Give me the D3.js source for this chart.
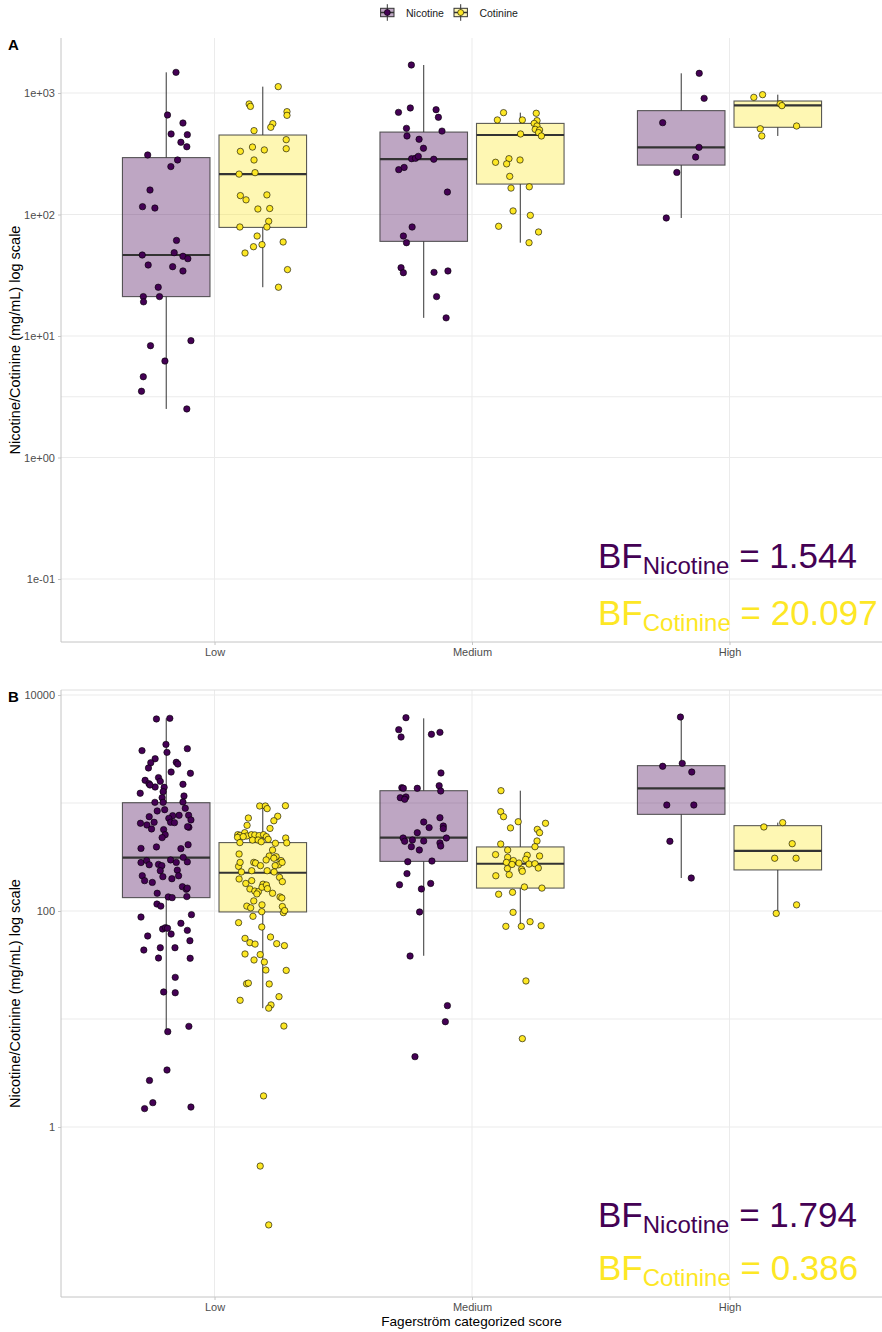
<!DOCTYPE html>
<html>
<head>
<meta charset="utf-8">
<script src="https://cdn.jsdelivr.net/npm/d3@7"></script>
<style>
  body { margin: 0; background: #fff; }
  svg { font-family: "Liberation Sans", Arial, sans-serif; }
</style>
</head>
<body>
<svg id="chart" width="882" height="1332"></svg>
<script>
const categories = ['Low', 'Medium', 'High']
const compounds = ['Nicotine', 'Cotinine']
const compoundColors = ['#440154', '#FDE725']

// ---- panel A ----
const limitsA = [0.0303, 2836]
const ticksA = [0.1, 1, 10, 100, 1000]
const tickLabelsA = ['1e-01', '1e+00', '1e+01', '1e+02', '1e+03']
const minorA = [3.162]
const bfA = ['1.544', '20.097']
// [lower whisker, q1, median, q3, upper whisker] per category
const boxA_nic = [[2.51, 21.1, 46.4, 294, 1480], [14.1, 60.1, 286, 477, 1700], [93.6, 255, 357, 716, 1452]]
const boxA_cot = [[25.2, 78.3, 215, 451, 1128], [58.6, 178, 451, 562, 689], [443, 522, 790, 859, 969]]
// points: [jitter (category units), value]
const ptsA_nic_low = [[0.038,1479],[0.005,659],[0.065,566],[0.019,460],[0.082,454],[0.057,393],[0.080,361],[-0.072,309],[0.044,281],[0.018,248],[-0.063,159],[-0.092,116],[-0.044,113],[0.040,61.2],[-0.093,46.4],[0.031,48.5],[0.065,45.3],[0.084,43.3],[-0.070,38.4],[0.025,37.2],[0.065,34.3],[-0.031,25.2],[-0.089,21.1],[-0.026,21.1],[-0.088,19.1],[-0.061,8.32],[0.096,9.16],[-0.005,6.22],[-0.089,4.62],[-0.096,3.51],[0.080,2.51]]
const ptsA_nic_med = [[-0.048,1700],[-0.098,693],[-0.052,753],[0.048,729],[0.057,631],[-0.067,512],[-0.065,443],[0.071,486],[-0.018,416],[-0.001,351],[-0.047,288],[-0.032,290],[-0.021,301],[0.039,285],[-0.097,234],[-0.076,244],[0.092,153],[-0.045,78.9],[-0.079,66.5],[-0.067,58.6],[-0.088,36.5],[-0.079,33.2],[0.040,33.4],[0.094,34.3],[0.050,21.1],[0.087,14.1]]
const ptsA_nic_high = [[0.070,1452],[0.089,904],[-0.072,570],[0.069,357],[0.056,297],[-0.017,222],[-0.058,93.6]]
const ptsA_cot_low = [[0.060,1128],[-0.053,812],[-0.048,776],[0.094,702],[0.094,655],[0.039,560],[0.031,522],[-0.034,490],[0.091,413],[0.091,348],[-0.040,359],[-0.087,331],[0.006,340],[-0.034,281],[-0.092,215],[-0.030,221],[-0.087,143],[-0.065,132],[0.016,145],[-0.019,111],[0.027,112],[0.023,88],[-0.089,78.9],[0.016,78.9],[-0.022,66.5],[-0.036,54.3],[-0.003,56.5],[0.079,59.4],[-0.069,48.2],[0.096,35.2],[0.061,25.2]]
const ptsA_cot_med = [[-0.065,689],[-0.089,600],[0.008,600],[0.062,681],[0.065,592],[0.054,562],[0.065,535],[0.058,502],[0.075,496],[0.071,472],[0.082,443],[0.001,460],[-0.096,269],[-0.044,288],[-0.053,261],[-0.001,281],[-0.041,206],[-0.036,165],[0.035,169],[-0.028,107],[0.039,98.4],[-0.084,80],[0.071,71.8],[0.034,58.6]]
const ptsA_cot_high = [[-0.093,921],[-0.059,969],[0.009,815],[0.016,787],[-0.068,508],[-0.062,443],[0.073,535]]

// ---- panel B ----
const limitsB = [0.02667, 11125]
const ticksB = [1, 100, 10000]
const tickLabelsB = ['1', '100', '10000']
const minorB = [10, 1000]
const bfB = ['1.794', '0.386']
const boxB_nic = [[7.64, 133, 312, 1007, 6080], [38.5, 288, 478, 1300, 6080], [202, 785, 1368, 2218, 6300]]
const boxB_cot = [[12.6, 98, 226, 430, 938], [72.6, 163, 274, 392, 1300], [95, 240, 360, 617, 658]]
const ptsB_nic_low = [[-0.038,6000],[0.014,6080],[-0.001,3490],[-0.094,3055],[0.082,3186],[0.003,2944],[-0.043,2570],[-0.060,2360],[-0.069,2109],[0.039,2381],[0.045,2296],[0.019,1936],[0.094,1884],[-0.030,1718],[-0.082,1622],[-0.023,1587],[-0.067,1510],[-0.043,1406],[-0.063,1468],[0.065,1490],[-0.008,1397],[-0.101,1231],[-0.012,1274],[0.069,1161],[-0.016,1120],[-0.044,1014],[0.065,1021],[-0.012,1014],[0.074,893],[-0.035,844],[-0.006,867],[0.087,769],[-0.066,747],[0.025,763],[0.050,769],[0.010,721],[0.096,697],[-0.100,649],[-0.047,663],[0.017,663],[0.032,658],[-0.075,626],[0.088,596],[-0.057,575],[-0.010,567],[0.083,604],[-0.004,509],[-0.016,478],[-0.098,380],[0.057,378],[0.085,411],[-0.038,392],[-0.098,281],[-0.076,293],[-0.066,268],[0.017,297],[0.039,282],[0.082,285],[-0.030,270],[-0.017,263],[-0.023,236],[0.043,239],[0.066,314],[-0.093,212],[-0.084,191],[-0.054,184],[-0.013,208],[0.022,199],[0.048,212],[0.063,168],[0.078,159],[0.082,163],[-0.035,146],[0.008,135],[0.023,133],[0.080,136],[-0.036,116],[-0.021,111],[-0.098,87.9],[0.098,92.5],[0.057,76.9],[-0.014,68.1],[-0.003,70.1],[0.005,69.2],[0.082,66.2],[0.019,61.2],[-0.072,58.7],[0.092,53.1],[-0.087,43.5],[-0.023,45.7],[0.034,45.7],[-0.030,36.7],[0.093,36.5],[0.035,24.3],[-0.010,17.8],[0.035,17.5],[0.088,8.55],[0.006,7.64],[0.003,3.37],[-0.065,2.70],[-0.052,1.68],[-0.084,1.48],[0.096,1.53]]
const ptsB_nic_med = [[-0.069,6166],[-0.097,4775],[-0.088,4083],[0.030,4326],[0.063,4511],[0.067,1897],[-0.085,1387],[-0.079,1368],[-0.025,1368],[0.060,1445],[0.066,1291],[-0.091,1120],[-0.069,1137],[-0.074,1081],[0.063,731],[0.000,667],[0.021,592],[0.076,612],[0.076,578],[-0.025,531],[0.088,474],[-0.080,474],[-0.074,442],[-0.044,454],[0.000,445],[0.063,427],[0.066,400],[-0.048,394],[-0.017,367],[-0.062,286],[0.032,290],[-0.065,222],[-0.094,175],[0.027,180],[-0.009,160],[-0.016,98],[-0.053,38.3],[0.092,13.3],[0.084,9.44],[-0.034,4.48]]
const ptsB_nic_high = [[-0.003,6250],[-0.072,2188],[0.004,2328],[0.041,1936],[-0.056,958],[0.049,958],[-0.044,442],[0.039,202]]
const ptsB_cot_low = [[-0.012,938],[0.010,938],[0.017,887],[0.088,944],[-0.056,726],[0.058,754],[0.043,685],[-0.061,621],[0.028,582],[-0.097,509],[-0.088,502],[-0.070,531],[-0.062,495],[-0.044,509],[-0.031,506],[-0.014,499],[0.003,509],[0.014,488],[-0.098,481],[-0.076,488],[-0.040,454],[-0.018,454],[-0.006,438],[0.021,461],[0.049,424],[0.089,474],[0.093,427],[-0.089,430],[0.038,367],[0.025,323],[0.052,318],[0.013,297],[-0.092,337],[0.043,308],[0.071,293],[0.061,268],[0.075,282],[-0.094,259],[-0.088,282],[-0.035,282],[-0.028,278],[-0.009,263],[0.048,263],[-0.083,230],[-0.043,236],[0.017,236],[0.044,230],[0.065,205],[0.076,187],[-0.092,198],[-0.066,180],[-0.043,191],[-0.050,160],[-0.031,153],[-0.017,151],[0.001,177],[-0.003,166],[0.014,174],[0.018,161],[0.038,146],[0.067,135],[0.074,132],[-0.023,144],[-0.035,124],[-0.062,111],[-0.047,107],[-0.003,114],[0.076,110],[0.080,96.6],[0.085,101],[-0.004,98.6],[-0.038,89.3],[-0.094,78],[-0.004,71.1],[-0.069,55.8],[-0.050,50.9],[-0.030,49.4],[0.030,57.4],[0.054,49.8],[0.084,47.8],[-0.069,40],[-0.010,39.5],[-0.034,35.2],[0.006,33.7],[0.012,28.4],[0.091,28.2],[-0.063,21.2],[-0.056,21.5],[0.025,21.1],[0.063,16.1],[-0.088,14.9],[0.032,13.5],[0.023,12.6],[0.082,8.61],[0.003,1.94],[-0.010,0.435],[0.023,0.124]]
const ptsB_cot_med = [[-0.075,1300],[-0.076,832],[-0.065,747],[-0.008,671],[-0.038,588],[0.098,649],[0.066,570],[0.075,531],[0.065,445],[-0.076,417],[0.057,394],[-0.049,367],[-0.096,333],[-0.049,314],[0.027,328],[0.075,323],[-0.027,293],[-0.054,282],[-0.032,270],[-0.005,278],[0.021,301],[0.034,272],[0.057,274],[0.070,250],[-0.050,247],[0.005,243],[0.008,233],[-0.095,212],[-0.043,217],[0.016,167],[0.084,163],[-0.084,143],[-0.030,149],[-0.028,97.2],[0.038,79.6],[-0.056,72.1],[0.004,72.1],[0.081,73.1],[0.022,22.5],[0.008,6.58]]
const ptsB_cot_high = [[-0.054,600],[0.019,658],[0.056,420],[-0.012,308],[0.071,308],[0.073,114],[-0.006,95]]

const svg = d3.select('#chart')
const x = d3.scaleLinear().domain([0.4, 3.6]).range([60, 884])
const DODGE = 0.1875, BOX_W = 0.34
const AXIS_X = 61, RIGHT = 882
const GRID = '#ebebeb', AXIS_COL = '#c4c4c4', TICK_TXT = '#4d4d4d'

const panels = [
  { label: 'A', top: 38, bottom: 642, limits: limitsA, ticks: ticksA, labels: tickLabelsA, minor: minorA,
    bf: bfA, bfY: [568, 625], boxes: [boxA_nic, boxA_cot],
    pts: [[ptsA_nic_low, ptsA_nic_med, ptsA_nic_high], [ptsA_cot_low, ptsA_cot_med, ptsA_cot_high]], xTitle: false },
  { label: 'B', top: 690, bottom: 1297, limits: limitsB, ticks: ticksB, labels: tickLabelsB, minor: minorB,
    bf: bfB, bfY: [1227, 1280], boxes: [boxB_nic, boxB_cot],
    pts: [[ptsB_nic_low, ptsB_nic_med, ptsB_nic_high], [ptsB_cot_low, ptsB_cot_med, ptsB_cot_high]], xTitle: true }
]

function drawPanel(p) {
  const g = svg.append('g')
  const y = d3.scaleLog().domain(p.limits).range([p.bottom, p.top])

  // grid
  g.selectAll('.hgrid').data(p.ticks.concat(p.minor)).enter()
    .append('line')
    .attr('x1', AXIS_X).attr('x2', RIGHT)
    .attr('y1', d => y(d)).attr('y2', d => y(d))
    .attr('stroke', GRID).attr('stroke-width', 1)
  g.selectAll('.vgrid').data(categories).enter()
    .append('line')
    .attr('x1', (d, i) => x(i + 1)).attr('x2', (d, i) => x(i + 1))
    .attr('y1', p.top).attr('y2', p.bottom)
    .attr('stroke', GRID).attr('stroke-width', 1)
  if (p.label === 'B') {
    g.append('line').attr('x1', AXIS_X).attr('x2', RIGHT).attr('y1', p.top).attr('y2', p.top)
      .attr('stroke', '#dedede')
  }

  // axes
  const yAxis = d3.axisLeft(y).tickValues(p.ticks).tickFormat((d, i) => p.labels[i]).tickSize(3).tickPadding(3)
  const ga = g.append('g').attr('transform', `translate(${AXIS_X},0)`).call(yAxis)
  ga.select('.domain').remove()
  ga.selectAll('line').attr('stroke', AXIS_COL)
  ga.selectAll('text').attr('fill', TICK_TXT).style('font-size', '11px').style('font-family', 'Liberation Sans, Arial, sans-serif')

  const xAxis = d3.axisBottom(x).tickValues([1, 2, 3]).tickFormat((d, i) => categories[i]).tickSize(3).tickPadding(3)
  const gx = g.append('g').attr('transform', `translate(0,${p.bottom})`).call(xAxis)
  gx.select('.domain').remove()
  gx.selectAll('line').attr('stroke', AXIS_COL)
  gx.selectAll('text').attr('fill', TICK_TXT).style('font-size', '11px').style('font-family', 'Liberation Sans, Arial, sans-serif')

  g.append('line').attr('x1', AXIS_X).attr('x2', AXIS_X).attr('y1', p.top).attr('y2', p.bottom)
    .attr('stroke', AXIS_COL)
  g.append('line').attr('x1', AXIS_X).attr('x2', RIGHT).attr('y1', p.bottom).attr('y2', p.bottom)
    .attr('stroke', AXIS_COL)

  // boxes
  const halfW = (x(BOX_W) - x(0)) / 2
  compounds.forEach((c, k) => {
    const off = k === 0 ? -DODGE : DODGE
    const gb = g.append('g')
    const b = gb.selectAll('g').data(p.boxes[k]).enter().append('g')
    b.append('line')
      .attr('x1', (d, i) => x(i + 1 + off)).attr('x2', (d, i) => x(i + 1 + off))
      .attr('y1', d => y(d[0])).attr('y2', d => y(d[1]))
      .attr('stroke', '#333').attr('stroke-width', 1)
    b.append('line')
      .attr('x1', (d, i) => x(i + 1 + off)).attr('x2', (d, i) => x(i + 1 + off))
      .attr('y1', d => y(d[3])).attr('y2', d => y(d[4]))
      .attr('stroke', '#333').attr('stroke-width', 1)
    b.append('rect')
      .attr('x', (d, i) => x(i + 1 + off) - halfW)
      .attr('width', halfW * 2)
      .attr('y', d => y(d[3]))
      .attr('height', d => y(d[1]) - y(d[3]))
      .attr('fill', compoundColors[k]).attr('fill-opacity', 0.35)
      .attr('stroke', '#333').attr('stroke-opacity', 0.8).attr('stroke-width', 1.1)
    b.append('line')
      .attr('x1', (d, i) => x(i + 1 + off) - halfW).attr('x2', (d, i) => x(i + 1 + off) + halfW)
      .attr('y1', d => y(d[2])).attr('y2', d => y(d[2]))
      .attr('stroke', '#333').attr('stroke-width', 2.2)
  })

  // points
  compounds.forEach((c, k) => {
    const off = k === 0 ? -DODGE : DODGE
    p.pts[k].forEach((arr, i) => {
      g.append('g').selectAll('circle').data(arr).enter()
        .append('circle')
        .attr('cx', d => x(i + 1 + off + d[0]))
        .attr('cy', d => y(d[1]))
        .attr('r', 3.2)
        .attr('fill', compoundColors[k])
        .attr('stroke', '#000').attr('stroke-width', 0.6)
    })
  })

  // BF annotations
  compounds.forEach((c, k) => {
    const t = g.append('text').attr('x', 598).attr('y', p.bfY[k])
      .attr('fill', compoundColors[k]).style('font-size', '35px')
    t.append('tspan').text('BF')
    t.append('tspan').attr('dy', 6).style('font-size', '24px').text(c)
    t.append('tspan').attr('dy', -6).text(' = ' + p.bf[k])
  })

  // panel tag
  svg.append('text').attr('x', 8).attr('y', p.top + 12)
    .style('font-size', '15px').style('font-weight', 'bold').text(p.label)

  // y title
  svg.append('text')
    .attr('transform', `translate(20,${(p.top + p.bottom) / 2}) rotate(-90)`)
    .attr('text-anchor', 'middle')
    .style('font-size', '14.5px')
    .text('Nicotine/Cotinine (mg/mL) log scale')

  if (p.xTitle) {
    svg.append('text').attr('x', (AXIS_X + RIGHT) / 2).attr('y', 1326)
      .attr('text-anchor', 'middle').style('font-size', '13.6px')
      .text('Fagerström categorized score')
  }
}

panels.forEach(drawPanel)

// legend
const legendX = [387.3, 460.7]
compounds.forEach((c, k) => {
  const lg = svg.append('g').attr('transform', `translate(${legendX[k]},12.5)`)
  lg.append('line').attr('y1', -8.3).attr('y2', 8.3).attr('stroke', '#333')
  lg.append('rect').attr('x', -6.7).attr('y', -4.2).attr('width', 13.4).attr('height', 8.4)
    .attr('fill', compoundColors[k]).attr('fill-opacity', 0.35).attr('stroke', '#333')
  lg.append('line').attr('x1', -6.7).attr('x2', 6.7).attr('stroke', '#333').attr('stroke-width', 1.5)
  lg.append('circle').attr('r', 3).attr('fill', compoundColors[k]).attr('stroke', '#000').attr('stroke-width', 0.6)
  lg.append('text').attr('x', 18.7).attr('y', 4).style('font-size', '10.5px').attr('fill', '#1a1a1a').text(c)
})
</script>
</body>
</html>
